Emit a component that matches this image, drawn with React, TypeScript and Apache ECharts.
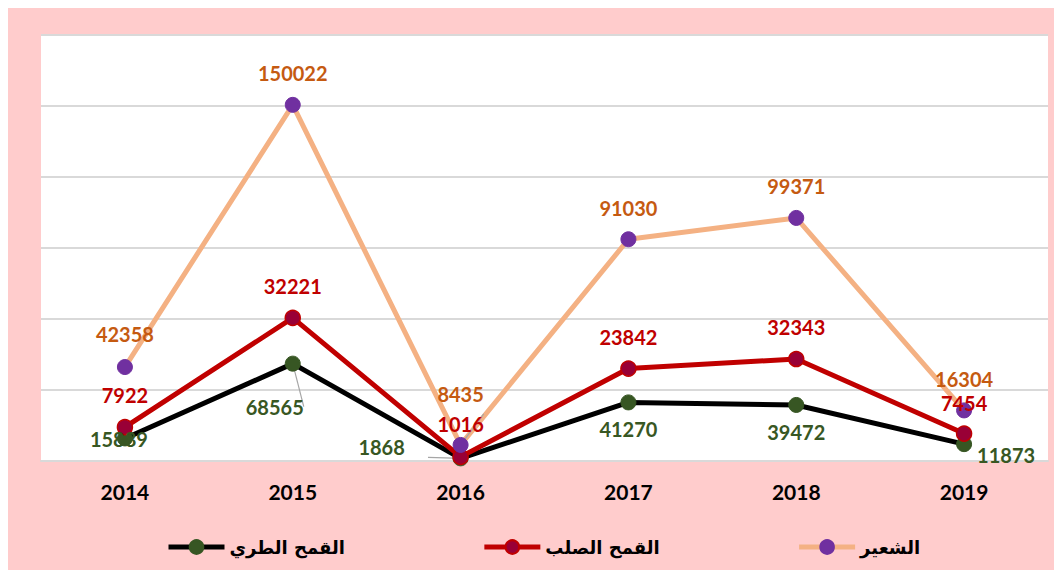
import React, { useEffect, useRef } from "react";
import * as echarts from "echarts";

// ---- data ----
const years = ["2014", "2015", "2016", "2017", "2018", "2019"];
const softWheat = [15889, 68565, 1868, 41270, 39472, 11873];
const durumWheat = [7922, 32221, 1016, 23842, 32343, 7454];
const barley = [42358, 150022, 8435, 91030, 99371, 16304];
const seriesNames = ["القمح الطري", "القمح الصلب", "الشعير"];
const yMin = 0;
const yMax = 300000;
const yInterval = 50000;

// ---- label placement (style, not data) ----
const softLabelOffsets: [number, number][] = [
  [-6, 1],
  [-18, 43],
  [-79, -11],
  [0, 27],
  [0, 27],
  [42, 11],
];
const softLabelLines = [false, true, true, false, false, false];
const durumLabelOffsets: [number, number][] = [
  [0, -32],
  [0, -32],
  [0, -33],
  [0, -32],
  [0, -32],
  [0, -31],
];
const barleyLabelOffsets: [number, number][] = [
  [0, -33],
  [0, -32],
  [0, -51],
  [0, -31],
  [0, -32],
  [0, -31],
];
const barleyLabelLines = [false, false, true, false, false, false];

const labelFont = {
  fontFamily: "Lato",
  fontWeight: "bold" as const,
  fontSize: 20,
};

function buildData(
  values: number[],
  offsets: [number, number][],
  lines: boolean[] | null
) {
  return values.map((v, i) => ({
    value: v,
    label: { position: "inside", offset: offsets[i] },
    labelLine: { show: lines ? lines[i] : false },
  }));
}

export default function App() {
  const ref = useRef<HTMLDivElement>(null);

  useEffect(() => {
    if (!ref.current) return;
    const chart = echarts.init(ref.current, undefined, { renderer: "svg" });

    const labelLineStyle = { color: "#A6A6A6", width: 1.2 };

    chart.setOption({
      animation: false,
      backgroundColor: "#FFCCCC",
      grid: {
        left: 33,
        right: 14,
        top: 27,
        bottom: 109,
        show: true,
        backgroundColor: "#FFFFFF",
        borderWidth: 0,
        containLabel: false,
      },
      legend: {
        data: seriesNames,
        left: 153,
        top: 525,
        itemGap: 137,
        itemWidth: 56,
        itemHeight: 17,
        lineStyle: { width: 5 },
        textStyle: {
          fontFamily: "DejaVu Sans",
          fontWeight: "bold",
          fontSize: 18,
          color: "#000000",
        },
      },
      xAxis: {
        type: "category",
        data: years,
        boundaryGap: true,
        axisLine: { show: true, lineStyle: { color: "#D9D9D9", width: 2 } },
        axisTick: { show: false },
        axisLabel: {
          color: "#000000",
          fontFamily: "Lato",
          fontWeight: "bold",
          fontSize: 21,
          margin: 20,
        },
      },
      yAxis: {
        type: "value",
        min: yMin,
        max: yMax,
        interval: yInterval,
        axisLine: { show: false },
        axisTick: { show: false },
        axisLabel: { show: false },
        splitLine: { show: true, lineStyle: { color: "#D9D9D9", width: 2 } },
      },
      series: [
        {
          name: seriesNames[0],
          type: "line",
          stack: "total",
          data: buildData(softWheat, softLabelOffsets, softLabelLines),
          symbol: "circle",
          symbolSize: 15,
          lineStyle: { color: "#000000", width: 5 },
          itemStyle: { color: "#375623", borderColor: "#375623", borderWidth: 1 },
          label: { show: true, color: "#385723", ...labelFont },
          labelLine: { lineStyle: labelLineStyle },
        },
        {
          name: seriesNames[1],
          type: "line",
          stack: "total",
          data: buildData(durumWheat, durumLabelOffsets, null),
          symbol: "circle",
          symbolSize: 15,
          lineStyle: { color: "#C00000", width: 5 },
          itemStyle: { color: "#990036", borderColor: "#C00000", borderWidth: 1.5 },
          label: { show: true, color: "#C00000", ...labelFont },
          labelLine: { lineStyle: labelLineStyle },
        },
        {
          name: seriesNames[2],
          type: "line",
          stack: "total",
          data: buildData(barley, barleyLabelOffsets, barleyLabelLines),
          symbol: "circle",
          symbolSize: 15,
          lineStyle: { color: "#F4B183", width: 5 },
          itemStyle: { color: "#7030A0", borderColor: "#7030A0", borderWidth: 1 },
          label: { show: true, color: "#C55A11", ...labelFont },
          labelLine: { lineStyle: labelLineStyle },
        },
      ],
    });

    return () => {
      chart.dispose();
    };
  }, []);

  return <div ref={ref} style={{ width: 1054, height: 562 }} />;
}
